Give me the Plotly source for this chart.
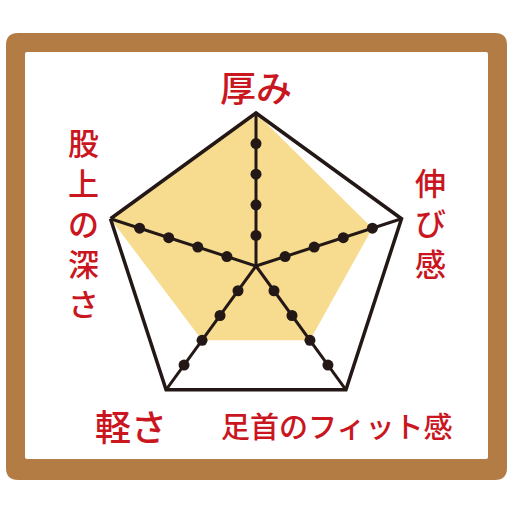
import plotly.graph_objects as go

# radar data
categories = ["厚み", "伸び感", "足首のフィット感", "軽さ", "股上の深さ"]
scores = [5, 4, 3, 3, 5]
levels = [1, 2, 3, 4]
r_max = 5

W = H = 512
FONT = "Noto Sans CJK JP"
RED = "#c9161f"
BROWN = "#b47c45"
YELLOW = "#f7dc8f"
INK = "#231815"


def px(x, y):
    # pixel -> paper coords
    return x / W, 1 - y / H


def rounded_rect(x0, y0, x1, y1, r):
    ax0, ay0 = px(x0, y0)
    ax1, ay1 = px(x1, y1)
    rx, ry = r / W, r / H
    return (f"M {ax0 + rx},{ay0} L {ax1 - rx},{ay0} Q {ax1},{ay0} {ax1},{ay0 - ry} "
            f"L {ax1},{ay1 + ry} Q {ax1},{ay1} {ax1 - rx},{ay1} "
            f"L {ax0 + rx},{ay1} Q {ax0},{ay1} {ax0},{ay1 + ry} "
            f"L {ax0},{ay0 - ry} Q {ax0},{ay0} {ax0 + rx},{ay0} Z")


fig = go.Figure()

# yellow score area
fig.add_trace(go.Scatterpolar(
    r=scores, theta=categories, fill="toself", fillcolor=YELLOW,
    mode="lines", line=dict(width=0, color=YELLOW), hoverinfo="skip"
))

# spokes
for c in categories:
    fig.add_trace(go.Scatterpolar(
        r=[0, r_max], theta=[c, c], mode="lines", cliponaxis=False,
        line=dict(color=INK, width=3), hoverinfo="skip"
    ))

# dots on every level
fig.add_trace(go.Scatterpolar(
    r=[lv for c in categories for lv in levels],
    theta=[c for c in categories for lv in levels],
    mode="markers", marker=dict(color=INK, size=11), hoverinfo="skip"
))

cx, cy, rad = 256, 266, 153
dx0, dy1 = px(cx - rad, cy - rad)
dx1, dy0 = px(cx + rad, cy + rad)

fig.update_layout(
    width=W, height=H, margin=dict(l=0, r=0, t=0, b=0),
    paper_bgcolor="white", showlegend=False,
    polar=dict(
        domain=dict(x=[dx0, dx1], y=[dy0, dy1]),
        bgcolor="rgba(0,0,0,0)", gridshape="linear",
        radialaxis=dict(range=[0, r_max], visible=False),
        angularaxis=dict(rotation=90, direction="clockwise", showgrid=False,
                         showline=True, linecolor=INK, linewidth=3.5,
                         showticklabels=False, ticks=""),
    ),
    shapes=[
        dict(type="path", xref="paper", yref="paper", layer="below",
             path=rounded_rect(6, 33, 507, 480, 12), fillcolor=BROWN, line=dict(width=0)),
        dict(type="path", xref="paper", yref="paper", layer="below",
             path=rounded_rect(25, 52, 488, 459, 2), fillcolor="white", line=dict(width=0)),
    ],
)

# labels: horizontal ones
horiz = {categories[0]: (256, 86, 36), categories[2]: (336, 425, 29), categories[3]: (131, 425, 36)}
for text, (x, y, size) in horiz.items():
    ax, ay = px(x, y)
    fig.add_annotation(x=ax, y=ay, xref="paper", yref="paper", text=text, showarrow=False,
                       xanchor="center", yanchor="middle",
                       font=dict(family=FONT, size=size, color=RED, weight=500))

# labels: vertical ones, stacked glyphs
vert = {categories[1]: (430, 222), categories[4]: (83, 222)}
for text, (x, y) in vert.items():
    ax, ay = px(x, y)
    fig.add_annotation(x=ax, y=ay, xref="paper", yref="paper", text="<br>".join(text), showarrow=False,
                       xanchor="center", yanchor="middle", align="center",
                       font=dict(family=FONT, size=31, color=RED, weight=500))

fig.write_html("out.html", config={"displayModeBar": False},
               post_script="document.body.style.margin='0';")
